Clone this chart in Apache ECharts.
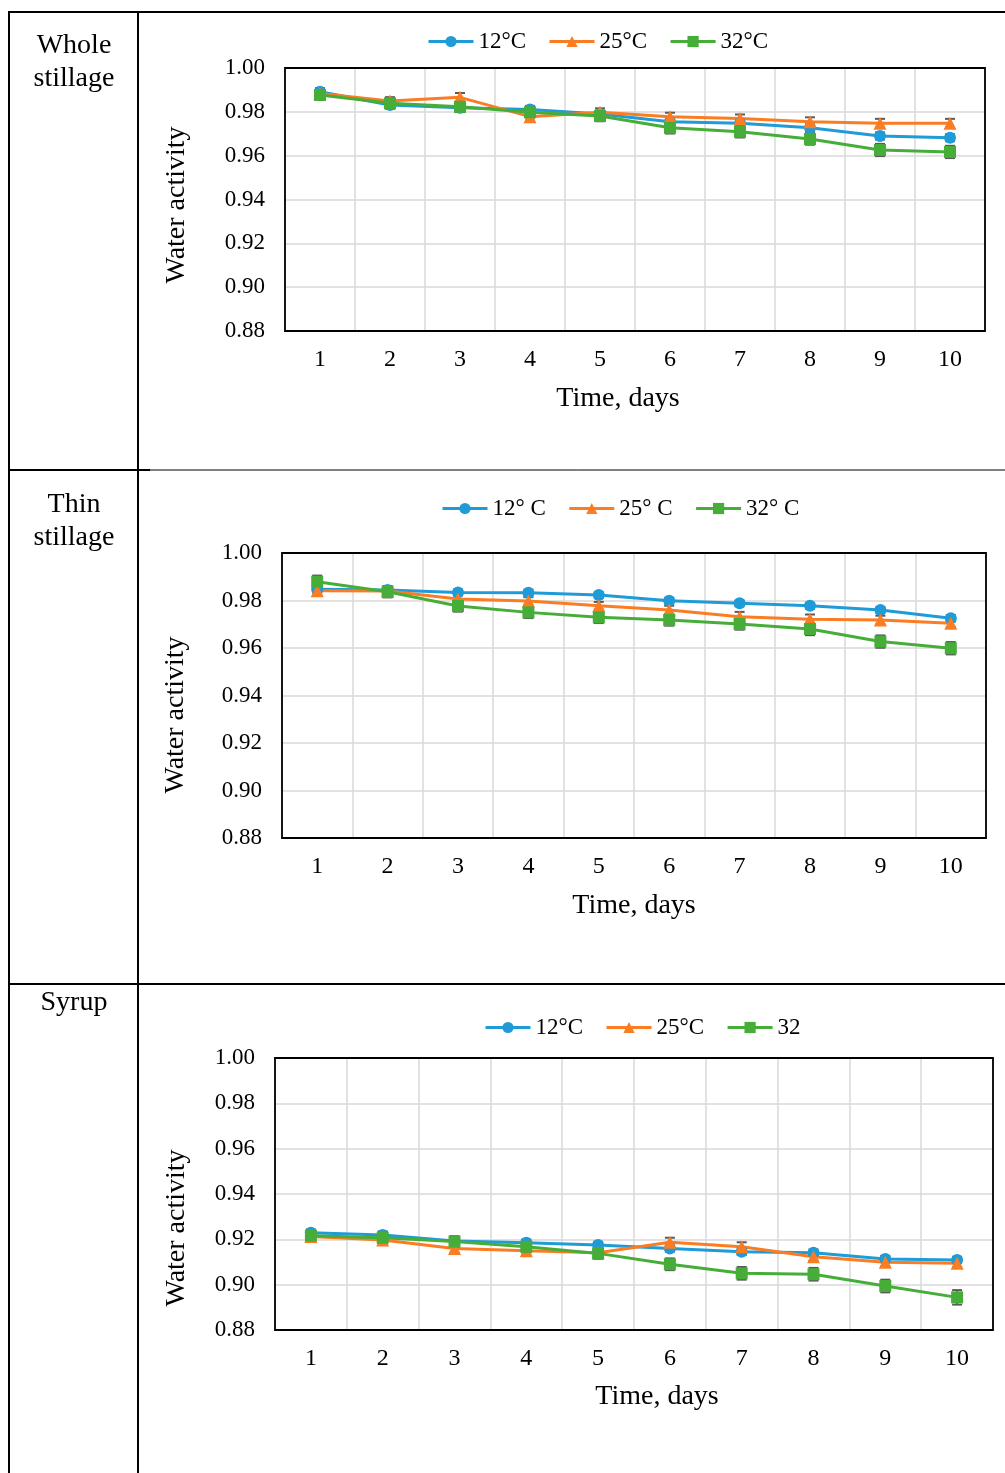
<!DOCTYPE html>
<html>
<head>
<meta charset="utf-8">
<script src="https://cdn.jsdelivr.net/npm/echarts@6/dist/echarts.min.js"></script>
<style>
html,body{margin:0;padding:0;background:#fff;}
#c{width:1005px;height:1473px;}
</style>
</head>
<body>
<div id="c"></div>
<script>
// ---- data ----
const days = ['1','2','3','4','5','6','7','8','9','10'];
const yTicks = [0.88, 0.90, 0.92, 0.94, 0.96, 0.98, 1.00];

const panelNames = ['Whole\nstillage', 'Thin\nstillage', 'Syrup'];

const legendWhole = ['12°C', '25°C', '32°C'];
const legendThin = ['12° C', '25° C', '32° C'];
const legendSyrup = ['12°C', '25°C', '32'];

// Whole stillage
const whole12 = [0.9892, 0.9831, 0.9819, 0.9811, 0.9790, 0.9755, 0.9748, 0.9727, 0.9690, 0.9682];
const whole25 = [0.9884, 0.9849, 0.9866, 0.9778, 0.9798, 0.9778, 0.9770, 0.9755, 0.9748, 0.9748];
const whole32 = [0.9877, 0.9839, 0.9823, 0.9798, 0.9781, 0.9727, 0.9709, 0.9676, 0.9626, 0.9617];
const wholeErr12 = [0.0016, 0.0016, 0.0014, 0.0016, 0.0014, 0.0016, 0.0016, 0.0016, 0.0016, 0.0016];
const wholeErr25 = [0.0014, 0.0018, 0.0020, 0.0018, 0.0018, 0.0018, 0.0018, 0.0020, 0.0020, 0.0020];
const wholeErr32 = [0.0022, 0.0024, 0.0024, 0.0024, 0.0024, 0.0026, 0.0026, 0.0026, 0.0028, 0.0028];

// Thin stillage
const thin12 = [0.9847, 0.9844, 0.9834, 0.9833, 0.9823, 0.9799, 0.9788, 0.9778, 0.9760, 0.9725];
const thin25 = [0.9841, 0.9840, 0.9806, 0.9798, 0.9778, 0.9760, 0.9732, 0.9721, 0.9718, 0.9704];
const thin32 = [0.9879, 0.9837, 0.9777, 0.9750, 0.9729, 0.9718, 0.9701, 0.9680, 0.9627, 0.9599];
const thinErr12 = [0.0012, 0.0012, 0.0012, 0.0012, 0.0012, 0.0012, 0.0012, 0.0012, 0.0012, 0.0014];
const thinErr25 = [0.0016, 0.0016, 0.0016, 0.0016, 0.0016, 0.0018, 0.0020, 0.0020, 0.0018, 0.0016];
const thinErr32 = [0.0026, 0.0024, 0.0024, 0.0024, 0.0024, 0.0024, 0.0024, 0.0026, 0.0026, 0.0026];

// Syrup
const syrup12 = [0.9229, 0.9219, 0.9193, 0.9185, 0.9175, 0.9160, 0.9145, 0.9141, 0.9113, 0.9109];
const syrup25 = [0.9212, 0.9197, 0.9160, 0.9150, 0.9141, 0.9187, 0.9167, 0.9123, 0.9099, 0.9094];
const syrup32 = [0.9216, 0.9207, 0.9190, 0.9167, 0.9138, 0.9090, 0.9050, 0.9046, 0.8994, 0.8944];
const syrupErr12 = [0.0014, 0.0016, 0.0016, 0.0014, 0.0014, 0.0014, 0.0014, 0.0014, 0.0014, 0.0014];
const syrupErr25 = [0.0014, 0.0016, 0.0018, 0.0018, 0.0016, 0.0020, 0.0020, 0.0018, 0.0018, 0.0016];
const syrupErr32 = [0.0022, 0.0024, 0.0024, 0.0024, 0.0024, 0.0026, 0.0028, 0.0028, 0.0028, 0.0032];

// ---- styling ----
const FONT = '"Liberation Serif", "Times New Roman", serif';
const colors = ['#1f9bd7', '#fa7d24', '#46ad39'];
const symbols = ['circle', 'triangle', 'rect'];
const symbolSizes = [12, 13, 12];
const errColor = '#5a5a5a';

const panels = [
  { names: legendWhole, vals: [whole12, whole25, whole32], errs: [wholeErr12, wholeErr25, wholeErr32],
    grid: { left: 285, top: 68, width: 700, height: 263 }, legendLeft: 422, legendTop: 25,
    xTitle: [618, 399], yTitle: [177, 205], label: [74, 62] },
  { names: legendThin, vals: [thin12, thin25, thin32], errs: [thinErr12, thinErr25, thinErr32],
    grid: { left: 282, top: 553, width: 704, height: 285 }, legendLeft: 436, legendTop: 492,
    xTitle: [634, 906], yTitle: [176, 715], label: [74, 521] },
  { names: legendSyrup, vals: [syrup12, syrup25, syrup32], errs: [syrupErr12, syrupErr25, syrupErr32],
    grid: { left: 275, top: 1058, width: 718, height: 272 }, legendLeft: 479, legendTop: 1011,
    xTitle: [657, 1397], yTitle: [177, 1228], label: [74, 1003] }
];

const grids = [], xAxes = [], yAxes = [], legends = [], series = [], graphics = [];

panels.forEach((p, i) => {
  grids.push(Object.assign({ show: false }, p.grid));
  xAxes.push({
    type: 'category', gridIndex: i, data: days, boundaryGap: true,
    axisLine: { show: false }, axisTick: { show: false },
    axisLabel: { fontFamily: FONT, fontSize: 24, color: '#000', margin: 17, interval: 0 },
    splitLine: { show: true, interval: 0, lineStyle: { color: '#d9d9d9', width: 1.5 } }
  });
  yAxes.push({
    type: 'value', gridIndex: i, min: yTicks[0], max: yTicks[yTicks.length - 1], interval: 0.02,
    axisLine: { show: false }, axisTick: { show: false },
    axisLabel: { fontFamily: FONT, fontSize: 23, color: '#000', margin: 20, formatter: v => v.toFixed(2) },
    splitLine: { show: true, lineStyle: { color: '#d9d9d9', width: 1.5 } }
  });
  legends.push({
    data: p.names, left: p.legendLeft, top: p.legendTop, orient: 'horizontal',
    itemWidth: 45, itemHeight: 14, itemGap: 22, selectedMode: false,
    lineStyle: { width: 3 },
    textStyle: { fontFamily: FONT, fontSize: 23, color: '#000' }
  });
  p.vals.forEach((vals, k) => {
    series.push({
      type: 'line', name: p.names[k], xAxisIndex: i, yAxisIndex: i,
      data: vals, symbol: symbols[k], symbolSize: symbolSizes[k],
      lineStyle: { color: colors[k], width: 3 }, itemStyle: { color: colors[k] },
      z: 3, animation: false
    });
    const errData = vals.map((v, j) => [j, v, p.errs[k][j]]);
    series.push({
      type: 'custom', xAxisIndex: i, yAxisIndex: i, data: errData, z: 2, animation: false, silent: true,
      renderItem: (params, api) => {
        const x = api.value(0), y = api.value(1), e = api.value(2);
        const t = api.coord([x, y + e]), b = api.coord([x, y - e]);
        const w = 5;
        const st = { stroke: errColor, lineWidth: 2 };
        return { type: 'group', children: [
          { type: 'line', shape: { x1: t[0], y1: t[1], x2: b[0], y2: b[1] }, style: st },
          { type: 'line', shape: { x1: t[0] - w, y1: t[1], x2: t[0] + w, y2: t[1] }, style: st },
          { type: 'line', shape: { x1: b[0] - w, y1: b[1], x2: b[0] + w, y2: b[1] }, style: st }
        ]};
      }
    });
  });
  // plot frame
  graphics.push({ type: 'rect', shape: { x: p.grid.left, y: p.grid.top, width: p.grid.width, height: p.grid.height },
    style: { fill: 'none', stroke: '#000', lineWidth: 1.8 }, z: 20, silent: true });
  // axis titles
  graphics.push({ type: 'text', x: p.xTitle[0], y: p.xTitle[1],
    style: { text: 'Time, days', font: '28px ' + FONT, fill: '#000', textAlign: 'center', textVerticalAlign: 'middle' } });
  graphics.push({ type: 'text', x: p.yTitle[0], y: p.yTitle[1], rotation: Math.PI / 2,
    style: { text: 'Water activity', font: '28px ' + FONT, fill: '#000', textAlign: 'center', textVerticalAlign: 'middle' } });
  // panel label
  graphics.push({ type: 'text', x: p.label[0], y: p.label[1],
    style: { text: panelNames[i], font: '28px ' + FONT, fill: '#000', textAlign: 'center', textVerticalAlign: 'middle', lineHeight: 33 } });
});

// table lines
const tl = (x1, y1, x2, y2, w) => ({ type: 'line', shape: { x1, y1, x2, y2 }, style: { stroke: '#000', lineWidth: w }, z: 10 });
graphics.push(tl(8, 12, 1005, 12, 2));
graphics.push(tl(9, 12, 9, 1473, 2));
graphics.push(tl(138, 12, 138, 1473, 2));
graphics.push(tl(8, 470, 150, 470, 2));
graphics.push(tl(150, 470, 1005, 470, 1));
graphics.push(tl(8, 984, 1005, 984, 2));

const chart = echarts.init(document.getElementById('c'), null, { renderer: 'canvas' });
chart.setOption({
  backgroundColor: '#fff',
  animation: false,
  grid: grids, xAxis: xAxes, yAxis: yAxes, legend: legends, series: series,
  graphic: graphics
});
</script>
</body>
</html>
